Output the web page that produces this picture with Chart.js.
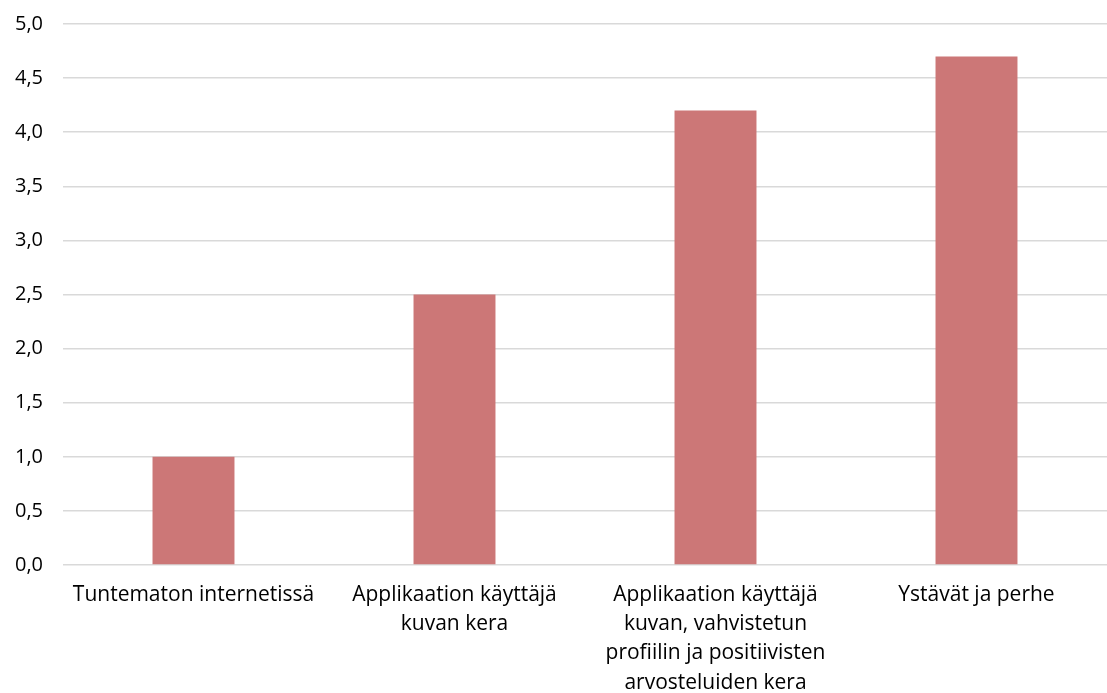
<!DOCTYPE html>
<html>
<head>
<meta charset="utf-8">
<script src="https://cdn.jsdelivr.net/npm/chart.js@4"></script>
<style>
  html, body { margin: 0; padding: 0; background: #fff; }
  #wrap { width: 1107px; height: 693px; }
</style>
</head>
<body>
<div id="wrap"><canvas id="myChart" width="1107" height="693"></canvas></div>
<script>
// categories (multi-line, as wrapped in the original)
const categories = [
  ['Tuntematon internetissä'],
  ['Applikaation käyttäjä', 'kuvan kera'],
  ['Applikaation käyttäjä', 'kuvan, vahvistetun', 'profiilin ja positiivisten', 'arvosteluiden kera'],
  ['Ystävät ja perhe']
]
const values = [1.0, 2.5, 4.2, 4.7]
const yTicks = [0, 0.5, 1, 1.5, 2, 2.5, 3, 3.5, 4, 4.5, 5]

const ctx = document.getElementById('myChart').getContext('2d')
const chart = new Chart(ctx, {
  type: 'bar',
  data: {
    labels: categories,
    datasets: [{
      data: values,
      backgroundColor: '#CC7777',
      categoryPercentage: 1,
      barPercentage: 0.314
    }]
  },
  options: {
    responsive: false,
    animation: false,
    layout: { padding: { top: 24, right: 0, left: 0, bottom: 0 } },
    plugins: { legend: { display: false }, tooltip: { enabled: false } },
    scales: {
      x: {
        grid: { display: false, drawTicks: false },
        border: { display: false },
        ticks: {
          color: '#000',
          font: { family: 'Open Sans', size: 21, lineHeight: 1.4 },
          padding: 15,
          maxRotation: 0,
          autoSkip: false
        },
        afterFit: function(axis) {
          axis.height = 128
          axis.paddingLeft = 0
          axis.paddingRight = 0
        }
      },
      y: {
        min: 0,
        max: 5,
        afterBuildTicks: function(axis) { axis.ticks = yTicks.map(v => ({ value: v })) },
        grid: { color: '#D9D9D9', lineWidth: 1.5, drawTicks: false },
        border: { display: false },
        ticks: {
          color: '#000',
          font: { family: 'Open Sans', size: 20 },
          padding: 20,
          callback: v => v.toFixed(1).replace('.', ',')
        },
        afterFit: function(axis) {
          axis.width = 63
          axis.paddingTop = 0
          axis.paddingBottom = 0
        }
      }
    }
  }
})
</script>
</body>
</html>
